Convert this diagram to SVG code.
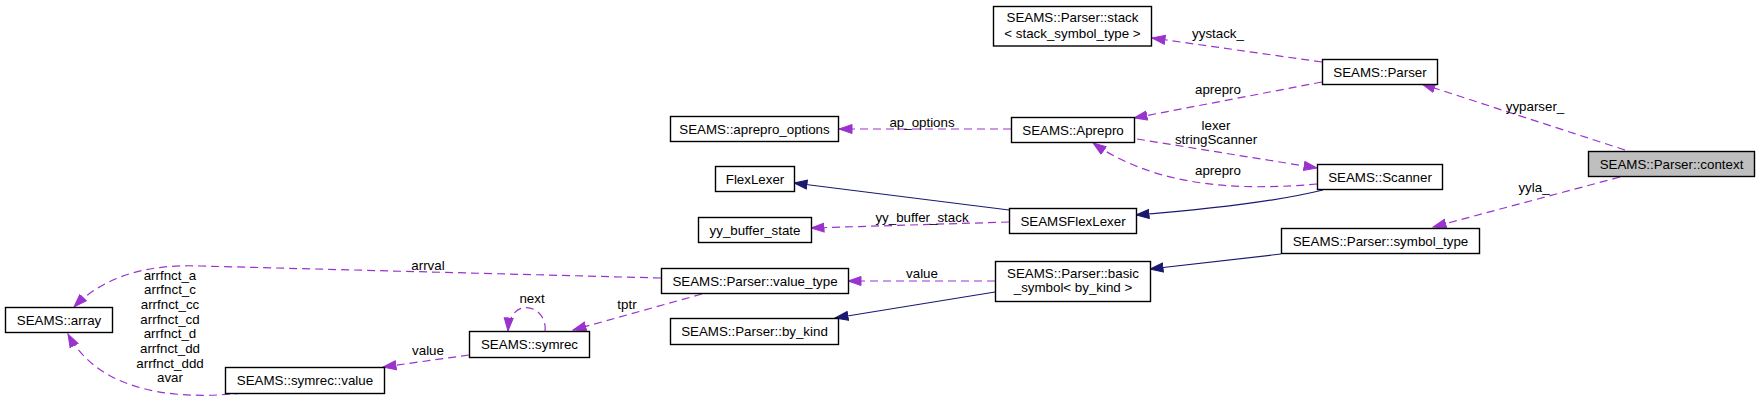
<svg xmlns="http://www.w3.org/2000/svg" width="1760" height="402" viewBox="0 0 1760 402">
<style>
text{font-family:"Liberation Sans",Arial,Helvetica,sans-serif;font-size:13.33px;fill:#000;text-anchor:middle}
.n rect{fill:#fff;stroke:#000;stroke-width:1.4}
.n rect.root{fill:#bfbfbf}
.d{fill:none;stroke:#9a32cd;stroke-width:1.2;stroke-dasharray:8,5;marker-end:url(#ap)}
.s{fill:none;stroke:#191970;stroke-width:1.2;marker-end:url(#an)}
</style>
<defs>
<marker id="ap" markerUnits="userSpaceOnUse" markerWidth="15" markerHeight="11" refX="13.5" refY="5" orient="auto" viewBox="0 0 15 10">
<path d="M0.5,0.5 L13.5,5 L0.5,9.5 z" fill="#9a32cd" stroke="#9a32cd"/>
</marker>
<marker id="an" markerUnits="userSpaceOnUse" markerWidth="15" markerHeight="11" refX="13.5" refY="5" orient="auto" viewBox="0 0 15 10">
<path d="M0.5,0.5 L13.5,5 L0.5,9.5 z" fill="#191970" stroke="#191970"/>
</marker>
</defs>
<rect x="0" y="0" width="1760" height="402" fill="#fff"/>
<g id="edges">
<path class="d" d="M1625,150 L1422,84"/>
<path class="d" d="M1620,177 L1433,227"/>
<path class="d" d="M1322,62 L1152,38"/>
<path class="d" d="M1322,82 L1134,118"/>
<path class="d" d="M1137,139 L1317,168"/>
<path class="d" d="M1317,184 C1250,190 1160,190 1093,143"/>
<path class="d" d="M1011,129 L839,129"/>
<path class="s" d="M1323,190 C1270,203 1200,210 1136,215"/>
<path class="s" d="M1009,210 L794,183"/>
<path class="d" d="M1009,222 L811,228"/>
<path class="s" d="M1281,254 L1150,269"/>
<path class="d" d="M995,281 L848,281"/>
<path class="s" d="M995,292 L835,318"/>
<path class="d" d="M661,278 L200,266 C150,264 105,275 74,307"/>
<path class="d" d="M702,294 L573,330"/>
<path class="d" d="M545,331 C548,305 510,295 508,331"/>
<path class="d" d="M469,355 L383,367"/>
<path class="d" d="M243,393 C160,402 95,385 68,334"/>
<text x="1535" y="110.5">yyparser_</text>
<text x="1534" y="191.5">yyla_</text>
<text x="1218" y="37.5">yystack_</text>
<text x="1218" y="93.5">aprepro</text>
<text x="1216" y="129.5">lexer</text>
<text x="1216" y="143.5">stringScanner</text>
<text x="1218" y="175">aprepro</text>
<text x="922" y="126.5">ap_options</text>
<text x="922" y="221.5">yy_buffer_stack</text>
<text x="922" y="277.5">value</text>
<text x="428" y="269.5">arrval</text>
<text x="627" y="308.5">tptr</text>
<text x="532" y="302.5">next</text>
<text x="428" y="354.5">value</text>
<text x="170" y="279.5">arrfnct_a</text>
<text x="170" y="294.2">arrfnct_c</text>
<text x="170" y="308.9">arrfnct_cc</text>
<text x="170" y="323.6">arrfnct_cd</text>
<text x="170" y="338.3">arrfnct_d</text>
<text x="170" y="353">arrfnct_dd</text>
<text x="170" y="367.7">arrfnct_ddd</text>
<text x="170" y="382.4">avar</text>
</g>
<g id="node-context" class="n"><rect class="root" x="1588.5" y="151.5" width="166" height="25"/><text x="1671.5" y="168.5">SEAMS::Parser::context</text></g>
<g id="node-parser" class="n"><rect x="1322.5" y="59.5" width="115" height="25"/><text x="1380" y="76.5">SEAMS::Parser</text></g>
<g id="node-stack" class="n"><rect x="993.5" y="6.5" width="158" height="39.5"/><text x="1072.5" y="22">SEAMS::Parser::stack</text><text x="1072.5" y="37.5">&lt; stack_symbol_type &gt;</text></g>
<g id="node-aprepro" class="n"><rect x="1011.5" y="117.5" width="123" height="25"/><text x="1073" y="134.5">SEAMS::Aprepro</text></g>
<g id="node-scanner" class="n"><rect x="1317.5" y="164.5" width="125" height="25"/><text x="1380" y="181.5">SEAMS::Scanner</text></g>
<g id="node-aprepro-options" class="n"><rect x="670.5" y="116.5" width="168" height="25"/><text x="754.5" y="133.5">SEAMS::aprepro_options</text></g>
<g id="node-flexlexer" class="n"><rect x="715.5" y="166.5" width="79" height="25"/><text x="755" y="183.5">FlexLexer</text></g>
<g id="node-seamsflexlexer" class="n"><rect x="1009.5" y="208.5" width="127" height="25"/><text x="1073" y="225.5">SEAMSFlexLexer</text></g>
<g id="node-yy-buffer-state" class="n"><rect x="698.5" y="217.5" width="113" height="25"/><text x="755" y="234.5">yy_buffer_state</text></g>
<g id="node-symbol-type" class="n"><rect x="1281.5" y="228.5" width="198" height="25"/><text x="1380.5" y="245.5">SEAMS::Parser::symbol_type</text></g>
<g id="node-basic-symbol" class="n"><rect x="995.5" y="261.5" width="155" height="40"/><text x="1073" y="277.5">SEAMS::Parser::basic</text><text x="1073" y="292">_symbol&lt; by_kind &gt;</text></g>
<g id="node-value-type" class="n"><rect x="661.5" y="268.5" width="187" height="25"/><text x="755" y="285.5">SEAMS::Parser::value_type</text></g>
<g id="node-by-kind" class="n"><rect x="670.5" y="318.5" width="168" height="26"/><text x="754.5" y="335.5">SEAMS::Parser::by_kind</text></g>
<g id="node-array" class="n"><rect x="5.5" y="307.5" width="107" height="25"/><text x="59" y="324.5">SEAMS::array</text></g>
<g id="node-symrec" class="n"><rect x="469.5" y="331.5" width="120" height="26"/><text x="529.5" y="348.5">SEAMS::symrec</text></g>
<g id="node-symrec-value" class="n"><rect x="225.5" y="367.5" width="159" height="26"/><text x="305" y="384.5">SEAMS::symrec::value</text></g>
</svg>
